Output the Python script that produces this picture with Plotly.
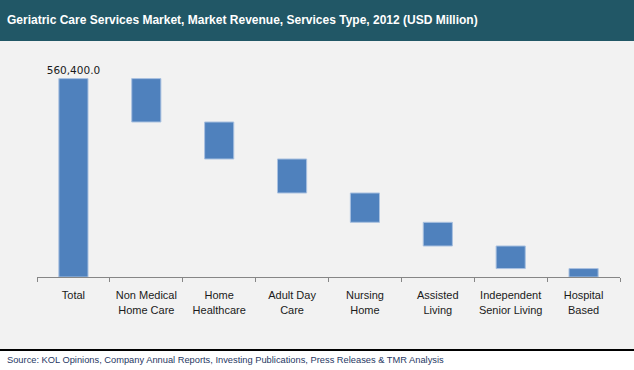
import plotly.graph_objects as go

categories = ["Total", "Non Medical<br>Home Care", "Home<br>Healthcare", "Adult Day<br>Care",
              "Nursing<br>Home", "Assisted<br>Living", "Independent<br>Senior Living", "Hospital<br>Based"]
total_value = 560400.0
segment_values = [122600, 104500, 96000, 82800, 66900, 63800, 23800]
measures = ["absolute"] + ["relative"] * len(segment_values)
values = [total_value] + [-v for v in segment_values]
labels = ["560,400.0"] + [""] * len(segment_values)

title_text = "Geriatric Care Services Market, Market Revenue, Services Type, 2012 (USD Million)"
source_text = "Source: KOL Opinions, Company Annual Reports, Investing Publications, Press Releases & TMR Analysis"

BAR = "#4F81BD"
EDGE = "#A9C1E0"

fig = go.Figure(go.Waterfall(
    x=categories,
    y=values,
    measure=measures,
    text=labels,
    textposition="outside",
    constraintext="none",
    textfont=dict(family="DejaVu Sans, Verdana", size=10.5, color="#1a1a1a"),
    cliponaxis=False,
    connector=dict(visible=False),
    increasing=dict(marker=dict(color=BAR, line=dict(color=EDGE, width=1))),
    decreasing=dict(marker=dict(color=BAR, line=dict(color=EDGE, width=1))),
    totals=dict(marker=dict(color=BAR, line=dict(color=EDGE, width=1))),
    hoverinfo="skip",
))

W, H = 634, 370
L, R, T, B = 37, 14, 58, 93
PH = H - T - B
PW = W - L - R

def py(p):
    return (H - B - p) / PH

def px(x):
    return (x - L) / PW

fig.update_layout(
    width=W, height=H,
    margin=dict(l=L, r=R, t=T, b=B, autoexpand=False),
    paper_bgcolor="#F2F2F2",
    plot_bgcolor="#F2F2F2",
    showlegend=False,
    waterfallgap=0.6,
    font=dict(family="Arial, Liberation Sans", color="#1a1a1a"),
    xaxis=dict(
        showline=True, linecolor="#868686", linewidth=1,
        ticks="outside", tickson="boundaries", ticklen=4, tickcolor="#868686",
        tickangle=0, ticklabelstandoff=8,
        tickfont=dict(size=11, family="Arial, Liberation Sans", color="#1a1a1a"),
        showgrid=False, fixedrange=True, automargin=False,
    ),
    yaxis=dict(visible=False, range=[0, PH * total_value / 198.4], showgrid=False, zeroline=False),
    shapes=[
        dict(type="rect", xref="paper", yref="paper", x0=px(-2), x1=px(W + 2), y0=py(41), y1=py(-2),
             fillcolor="#215766", line=dict(width=0), layer="below"),
        dict(type="rect", xref="paper", yref="paper", x0=px(-2), x1=px(W + 2), y0=py(H + 2), y1=py(350),
             fillcolor="#FFFFFF", line=dict(width=0), layer="below"),
        dict(type="line", xref="paper", yref="paper", x0=px(-2), x1=px(W + 2), y0=py(350), y1=py(350),
             line=dict(color="#000000", width=2)),
    ],
    annotations=[
        dict(text="<b>" + title_text + "</b>", xref="paper", yref="paper", x=px(5), y=py(20),
             xanchor="left", yanchor="middle", showarrow=False,
             font=dict(family="Arial, Liberation Sans", size=12, color="#FFFFFF")),
        dict(text=source_text, xref="paper", yref="paper", x=px(5), y=py(360),
             xanchor="left", yanchor="middle", showarrow=False,
             font=dict(family="Arial, Liberation Sans", size=9.3, color="#1F3864")),
    ],
)

fig.write_html("out.html", config={"displayModeBar": False},
               post_script="document.body.style.margin='0';document.body.style.padding='0';")
